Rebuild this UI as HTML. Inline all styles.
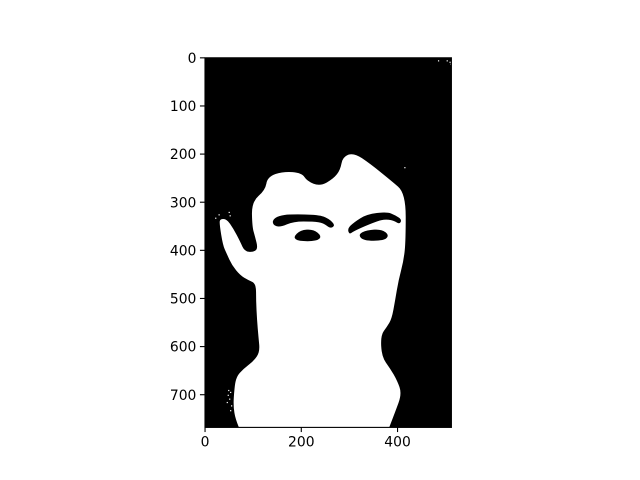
<!DOCTYPE html>
<html>
<head>
<meta charset="utf-8">
<style>
html,body{margin:0;padding:0;background:#fff;width:640px;height:480px;overflow:hidden}
svg{display:block}
text{font-family:"DejaVu Sans",sans-serif;font-size:13.89px;fill:#000}
</style>
</head>
<body>
<svg id="chart" xmlns="http://www.w3.org/2000/svg" width="640" height="480" viewBox="0 0 640 480"></svg>
<script>
const xTicks = [0, 200, 400];
const yTicks = [0, 100, 200, 300, 400, 500, 600, 700];
const imageWidth = 512;
const imageHeight = 768;
const silhouette = [[70,767],[63,750],[59,725],[60,698],[64,664],[80,646],[101,630],[114,611],[111,580],[108,545],[106,504],[106,469],[90,462],[73,452],[56,431],[45,407],[37,389],[30,345],[31,335],[45,335],[59,355],[73,382],[82,402],[100,404],[110,396],[104,372],[98,351],[97,299],[125,275],[130,247],[163,236],[201,239],[212,256],[239,267],[267,251],[281,233],[286,206],[309,197],[343,220],[385,254],[417,281],[417,379],[413,420],[402,462],[395,504],[388,542],[378,559],[365,576],[367,621],[385,646],[399,670],[409,698],[395,736],[383,767]];
const leftBrow = [[140,337],[153,328],[177,325],[236,326],[257,334],[271,348],[260,355],[246,343],[225,340],[184,340],[156,352],[142,348]];
const leftEye = [[183,373],[198,358],[225,356],[243,371],[232,381],[194,381]];
const rightBrow = [[296,355],[309,342],[336,325],[378,320],[395,327],[409,336],[404,346],[392,338],[371,335],[343,345],[309,360],[300,367]];
const rightEye = [[318,367],[336,358],[367,356],[383,369],[371,380],[329,380]];
const whiteSpecks = [[484,5],[502,5],[508,8],[510,12],[21,332],[28,325],[49,320],[51,327],[52,694],[48,690],[45,715],[50,708],[54,722],[52,732],[47,700],[414,227]];

const NS = 'http://www.w3.org/2000/svg';
const svg = document.getElementById('chart');
const axL = 204.8, axT = 57.6, axW = 246.4, axH = 369.6;
function xScale(v){ return axL + (v + 0.5) / imageWidth * axW; }
function yScale(v){ return axT + (v + 0.5) / imageHeight * axH; }
function smoothOpen(list){
  let d = 'M' + xScale(list[0][0]).toFixed(2) + ' ' + yScale(list[0][1]).toFixed(2);
  for (let i = 1; i < list.length - 1; i++) {
    const mx = (list[i][0] + list[i + 1][0]) / 2;
    const my = (list[i][1] + list[i + 1][1]) / 2;
    d += 'Q' + xScale(list[i][0]).toFixed(2) + ' ' + yScale(list[i][1]).toFixed(2) + ' ' + xScale(mx).toFixed(2) + ' ' + yScale(my).toFixed(2);
  }
  const last = list[list.length - 1];
  return d + 'L' + xScale(last[0]).toFixed(2) + ' ' + yScale(last[1]).toFixed(2) + 'Z';
}
function smoothClosed(list){
  const n = list.length;
  const mid = function(a, b){ return [(a[0] + b[0]) / 2, (a[1] + b[1]) / 2]; };
  const s = mid(list[n - 1], list[0]);
  let d = 'M' + xScale(s[0]).toFixed(2) + ' ' + yScale(s[1]).toFixed(2);
  for (let i = 0; i < n; i++) {
    const m = mid(list[i], list[(i + 1) % n]);
    d += 'Q' + xScale(list[i][0]).toFixed(2) + ' ' + yScale(list[i][1]).toFixed(2) + ' ' + xScale(m[0]).toFixed(2) + ' ' + yScale(m[1]).toFixed(2);
  }
  return d + 'Z';
}
function make(tag, attrs){
  const el = document.createElementNS(NS, tag);
  for (const k in attrs) el.setAttribute(k, attrs[k]);
  svg.appendChild(el);
  return el;
}

const bg = make('rect', {x:axL, y:axT, width:axW, height:axH, fill:'#000'});



const face = make('path', {d:smoothOpen(silhouette), fill:'#fff'});



const browL = make('path', {d:smoothClosed(leftBrow), fill:'#000'});



const eyeL = make('path', {d:smoothClosed(leftEye), fill:'#000'});



const browR = make('path', {d:smoothClosed(rightBrow), fill:'#000'});



const eyeR = make('path', {d:smoothClosed(rightEye), fill:'#000'});



whiteSpecks.forEach(function(p){
  const s = make('rect', {x:xScale(p[0]).toFixed(2), y:yScale(p[1]).toFixed(2), width:1.2, height:1.2, fill:'#fff'});
  
  
});

const frame = make('rect', {x:axL + 0.2, y:axT + 0.2, width:axW, height:axH, fill:'none', stroke:'#000', 'stroke-width':1.11});



xTicks.forEach(function(v){
  const x = xScale(v);
  const t = make('line', {x1:x, x2:x, y1:axT+axH, y2:axT+axH+4.86, stroke:'#000', 'stroke-width':1.11});
  
  
  const l = make('text', {x:x, y:axT+axH+19.2, 'text-anchor':'middle'});
  l.textContent = v;
  
  
});

yTicks.forEach(function(v){
  const y = yScale(v);
  const t = make('line', {x1:axL-4.86, x2:axL, y1:y, y2:y, stroke:'#000', 'stroke-width':1.11});
  
  
  const l = make('text', {x:axL-8.4, y:y+5.1, 'text-anchor':'end'});
  l.textContent = v;
  
  
});
</script>
</body>
</html>
